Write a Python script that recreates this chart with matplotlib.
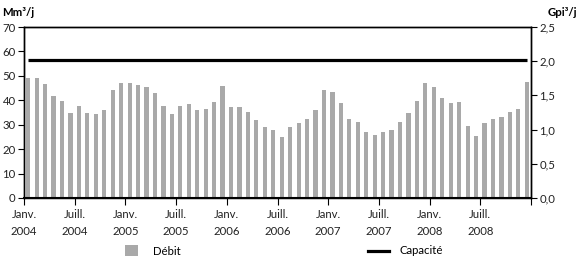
import matplotlib
matplotlib.use("Agg")
import matplotlib.pyplot as plt
from matplotlib.patches import Patch
from matplotlib.lines import Line2D
import numpy as np

# Monthly throughput (Mm³/j), Jan 2004 .. Dec 2008
debit_2004 = [49.0, 49.2, 46.6, 41.7, 39.6, 35.0, 37.5, 34.6, 34.3, 36.1, 44.2, 47.2]
debit_2005 = [47.0, 46.2, 45.3, 42.8, 37.5, 34.3, 37.8, 38.6, 36.0, 36.6, 39.5, 45.7]
debit_2006 = [37.4, 37.3, 35.2, 31.8, 29.2, 27.7, 24.9, 28.9, 30.6, 32.2, 35.9, 44.2]
debit_2007 = [43.5, 38.7, 32.2, 31.3, 27.2, 25.6, 27.0, 27.7, 31.3, 34.7, 39.8, 46.9]
debit_2008 = [45.5, 40.9, 38.8, 39.5, 29.3, 25.2, 30.5, 32.5, 33.2, 35.1, 36.3, 47.6]
debit = debit_2004 + debit_2005 + debit_2006 + debit_2007 + debit_2008

capacite = 56.3  # Mm³/j

x_tick_labels = ["Janv.\n2004", "Juill.\n2004", "Janv.\n2005", "Juill.\n2005",
                 "Janv.\n2006", "Juill.\n2006", "Janv.\n2007", "Juill.\n2007",
                 "Janv.\n2008", "Juill.\n2008", ""]
left_ticks = [0, 10, 20, 30, 40, 50, 60, 70]
right_ticks = [0.0, 0.5, 1.0, 1.5, 2.0, 2.5]
right_tick_labels = ["0,0", "0,5", "1,0", "1,5", "2,0", "2,5"]

plt.rcParams['font.family'] = ['Lato', 'DejaVu Sans']
FS = 8.2

fig = plt.figure(figsize=(5.8, 2.59), dpi=100)
ax = fig.add_axes([24/580, 1-198/259, (531-24)/580, (198-27)/259])

n = len(debit)
months = np.arange(n) + 0.5
bar_color = "#a9a9a9"
ax.bar(months, debit, width=0.5, color=bar_color, zorder=2)
ax.plot([months[0], months[-1]], [capacite, capacite], color="black", lw=2.3, zorder=3,
        solid_capstyle="butt")

ax.set_xlim(0, n)
ax.set_ylim(0, 70)
ax.set_yticks(left_ticks)
ax.set_yticklabels([str(t) for t in left_ticks], fontsize=FS, color="#222222")
ax.set_xticks(np.arange(0, n + 1, 6))
ax.set_xticklabels(x_tick_labels, fontsize=FS, color="#222222", linespacing=1.6)
ax.tick_params(axis='y', direction='out', length=4, width=0.8, pad=2)
ax.tick_params(axis='x', direction='out', length=5, width=0.8, pad=3)
for s in ax.spines.values():
    s.set_linewidth(1.0)
ax.spines['bottom'].set_linewidth(1.5)

ax2 = ax.twinx()
ax2.set_ylim(0, 2.5)
ax2.set_yticks(right_ticks)
ax2.set_yticklabels(right_tick_labels, fontsize=FS, color="#222222")
ax2.tick_params(axis='y', direction='out', length=4, width=0.8, pad=2)
for s in ax2.spines.values():
    s.set_linewidth(1.0)

fig.text(2/580, 1-12/259, "Mm³/j", fontsize=FS, fontweight="bold", ha="left", va="center")
fig.text(577/580, 1-12/259, "Gpi³/j", fontsize=FS, fontweight="bold", ha="right", va="center")

leg1 = fig.legend(handles=[Patch(facecolor=bar_color, edgecolor="none")], labels=["Débit"],
                  loc="center left", bbox_to_anchor=(115/580, 1-251/259), frameon=False,
                  fontsize=FS, handlelength=1.1, handleheight=1.1, handletextpad=1.3)
leg2 = fig.legend(handles=[Line2D([], [], color="black", lw=2.3)], labels=["Capacité"],
                  loc="center left", bbox_to_anchor=(358/580, 1-251/259), frameon=False,
                  fontsize=FS, handlelength=1.8, handletextpad=0.9)

fig.savefig("out.png", dpi=100)
